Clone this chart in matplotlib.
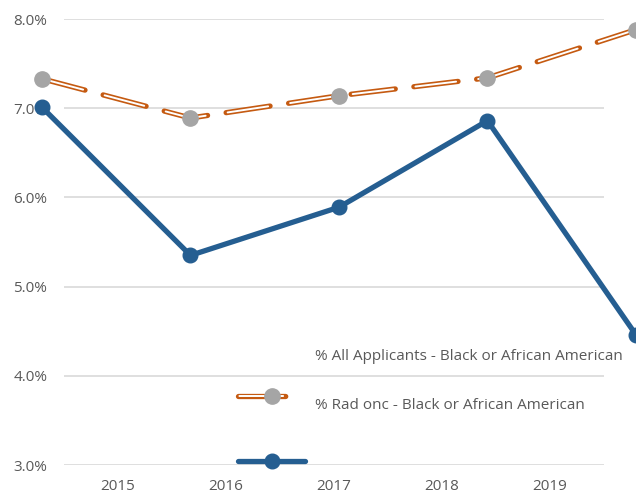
import matplotlib.pyplot as plt
from matplotlib.lines import Line2D

plt.rcParams['font.family'] = ['Open Sans', 'DejaVu Sans']
plt.rcParams['lines.scale_dashes'] = False

# data
years = ['2015', '2016', '2017', '2018', '2019']
all_applicants = [7.33, 6.89, 7.14, 7.34, 7.88]   # orange dashed, grey markers
rad_onc = [7.01, 5.35, 5.89, 6.86, 4.46]          # blue solid
series_names = ['% All Applicants - Black or African American',
                '% Rad onc - Black or African American']
yticks = [3.0, 4.0, 5.0, 6.0, 7.0, 8.0]

orange = '#c55a11'
grey = '#a5a5a5'
blue = '#255e91'
txt = '#595959'
fs = 11

W, H = 636, 494
fig = plt.figure(figsize=(W / 100, H / 100), dpi=100)
ax = fig.add_axes([64 / W, 29 / H, 540 / W, 446 / H])
ax.set_ylim(3, 8)
ax.set_xlim(0, len(years))
ax.set_yticks(yticks)
ax.set_yticklabels([f'{v:.1f}%' for v in yticks])
ax.set_xticks([i + 0.5 for i in range(len(years))])
ax.set_xticklabels(years)
ax.tick_params(length=0, labelsize=fs, colors=txt)
ax.tick_params(axis='y', pad=12)
ax.tick_params(axis='x', pad=10)
for s in ax.spines.values():
    s.set_visible(False)
ax.grid(axis='y', color='#d9d9d9', lw=1.2)
ax.set_axisbelow(True)

# the two series sit on a second, wider category scale
ax2 = ax.twiny()
ax2.set_xlim(0.148, 3.785)
ax2.set_ylim(3, 8)
ax2.axis('off')
x = list(range(len(years)))

outer = (0, (32, 13.5))
inner = (44.4, (29.5, 16))
ax2.plot(x, all_applicants, color=orange, lw=3.8, ls=outer,
         dash_capstyle='round', clip_on=False, zorder=3)
ax2.plot(x, all_applicants, color='white', lw=1.4, ls=inner,
         dash_capstyle='round', clip_on=False, zorder=3)
ax2.plot(x, all_applicants, ls='none', marker='o', ms=11, color=grey,
         clip_on=False, zorder=4)
ax2.plot(x, rad_onc, color=blue, lw=3.8, marker='o', ms=10.5,
         solid_capstyle='round', clip_on=False, zorder=5)

# legend, drawn the way it appears in the reference
tf = fig.transFigure
kx = [238 / W, 305 / W]
ky1 = 1 - 396 / H
ky2 = 1 - 461 / H
fig.add_artist(Line2D(kx, [ky1, ky1], color=orange, lw=3.8,
                      ls=(0, (34, 14.5)), dash_capstyle='round', transform=tf))
fig.add_artist(Line2D(kx, [ky1, ky1], color='white', lw=1.4,
                      ls=(47.5, (31.5, 17)), dash_capstyle='round', transform=tf))
fig.add_artist(Line2D([272 / W], [ky1], ls='none', marker='o', ms=11,
                      color=grey, transform=tf))
fig.add_artist(Line2D(kx, [ky2, ky2], color=blue, lw=3.8,
                      solid_capstyle='round', transform=tf))
fig.add_artist(Line2D([272 / W], [ky2], ls='none', marker='o', ms=10.5,
                      color=blue, transform=tf))
fig.text(315 / W, 1 - 357 / H, series_names[0], fontsize=fs, color=txt,
         va='center', ha='left')
fig.text(315 / W, 1 - 405 / H, series_names[1], fontsize=fs, color=txt,
         va='center', ha='left')

fig.savefig('out.png', dpi=100)
